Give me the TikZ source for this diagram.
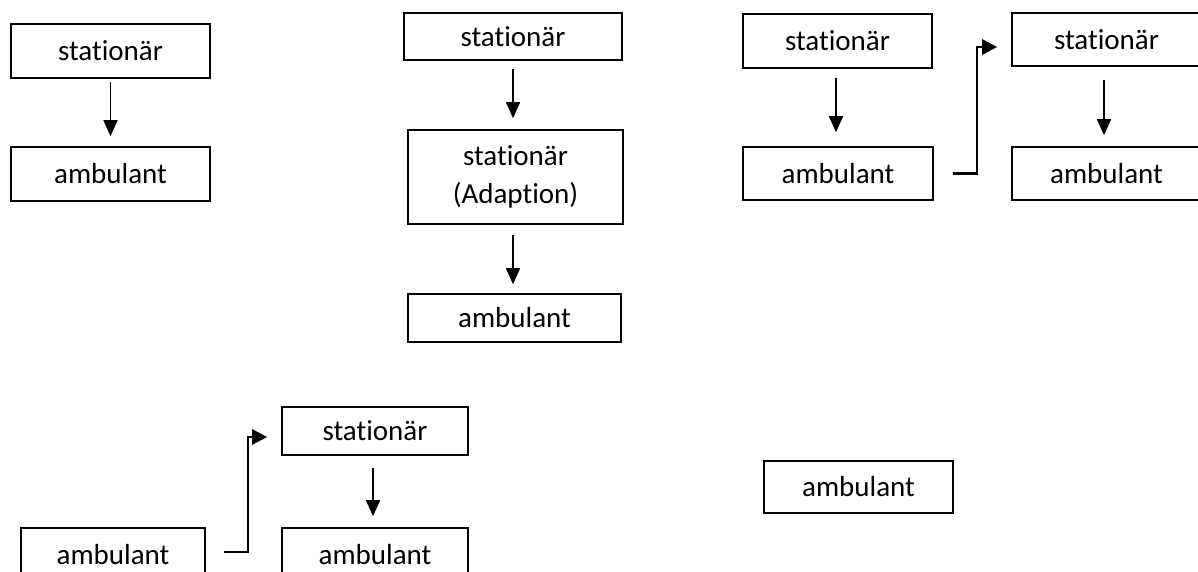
\documentclass[tikz,border=0pt]{standalone}
\usepackage{fontspec}
\setmainfont[Ligatures={NoCommon}]{Carlito}
\usetikzlibrary{arrows.meta}
\begin{document}
\begin{tikzpicture}[x=1pt,y=-1pt,
  box/.style={draw,line width=1.6pt,rectangle,inner sep=0pt,align=center,
    font=\fontsize{29}{38}\selectfont},
  arr/.style={line width=1.6pt,-{Triangle[width=14pt,length=16pt]}},
  elbow/.style={line width=2.6pt,-{Triangle[width=15pt,length=15pt]}}]
\useasboundingbox (0,0) rectangle (1198,572);
\clip (0,0) rectangle (1198,572);
% column 1
\node[box,minimum width=199pt,minimum height=54pt] (a1) at (110.5,51) {stationär};
\node[box,minimum width=199pt,minimum height=54pt] (a2) at (110.5,174) {ambulant};
\draw[arr] ([yshift=-3pt]a1.south) -- ([yshift=10pt]a2.north);
% column 2
\node[box,minimum width=218pt,minimum height=47pt] (b1) at (513,36.5) {stationär};
\node[box,minimum width=215pt,minimum height=94pt] (b2) at (515.5,177) {stationär\\(Adaption)};
\node[box,minimum width=213pt,minimum height=48pt] (b3) at (514.5,318) {ambulant};
\draw[arr] ([yshift=-8pt]b1.south) -- ([yshift=11pt]b1.south |- b2.north);
\draw[arr] ([yshift=-10pt]b1.south |- b2.south) -- ([yshift=9pt]b1.south |- b3.north);
% column 3
\node[box,minimum width=189pt,minimum height=54pt] (c1) at (837.5,41) {stationär};
\node[box,minimum width=190pt,minimum height=53pt] (c2) at (838,173.5) {ambulant};
\draw[arr] ([yshift=-9pt,xshift=-1.5pt]c1.south) -- ([yshift=14pt,xshift=-1.5pt]c1.south |- c2.north);
\node[box,minimum width=189pt,minimum height=53pt] (d1) at (1106.5,39.5) {stationär};
\node[box,minimum width=189pt,minimum height=53pt] (d2) at (1106.5,173.5) {ambulant};
\draw[arr] ([yshift=-13pt,xshift=-2.5pt]d1.south) -- ([yshift=11pt,xshift=-2.5pt]d1.south |- d2.north);
\coordinate (cs) at ([xshift=19pt]c2.east);
\coordinate (ct) at ([xshift=-14pt,yshift=-7.5pt]d1.west);
\draw[elbow] (cs) -- ++(24,0) |- (ct);
% bottom row
\node[box,minimum width=186pt,minimum height=48pt] (e1) at (375,431) {stationär};
\node[box,minimum width=186pt,minimum height=54pt] (e2) at (375,555) {ambulant};
\draw[arr] ([yshift=-12pt,xshift=-2pt]e1.south) -- ([yshift=11pt,xshift=-2pt]e1.south |- e2.north);
\node[box,minimum width=184pt,minimum height=54pt] (f1) at (113,555) {ambulant};
\coordinate (fs) at ([xshift=18pt,yshift=3pt]f1.east);
\coordinate (ft) at ([xshift=-14pt,yshift=-6pt]e1.west);
\draw[elbow] (fs) -- ++(24,0) |- (ft);
\node[box,minimum width=189pt,minimum height=52pt] (g1) at (858.5,487) {ambulant};
\end{tikzpicture}
\end{document}
